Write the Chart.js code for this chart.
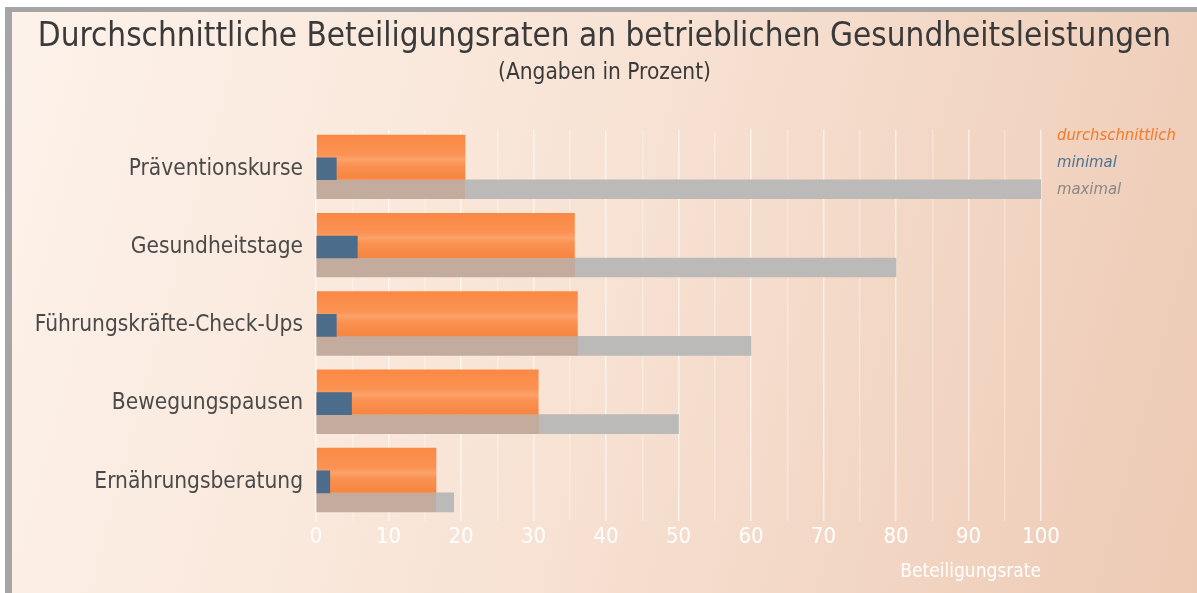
<!DOCTYPE html>
<html>
<head>
<meta charset="utf-8">
<script src="https://cdn.jsdelivr.net/npm/chart.js@4.4.0/dist/chart.umd.min.js"></script>
<style>
  html, body { margin: 0; padding: 0; background: #fff; }
  #frame {
    position: absolute; left: 5px; top: 7px; width: 1192px; height: 586px;
    box-sizing: border-box;
    border-top: 5px solid #a5a5a5; border-left: 7px solid #a5a5a5;
    background: linear-gradient(105deg, #fdf2ea 0%, #f8e4d6 45%, #edcab4 100%);
  }
  #wrap { position: absolute; left: 0; top: 0; width: 1185px; height: 581px; }
</style>
</head>
<body>
<div id="frame"><div id="wrap"><canvas id="myChart"></canvas></div></div>
<script>
var categories = ["Präventionskurse", "Gesundheitstage", "Führungskräfte-Check-Ups", "Bewegungspausen", "Ernährungsberatung"];
var avgValues = [20.6, 35.7, 36.1, 30.7, 16.6];
var minValues = [2.8, 5.7, 2.8, 4.9, 1.9];
var maxValues = [100, 80, 60, 50, 19];
var seriesNames = ["durchschnittlich", "minimal", "maximal"];

var FONT = '"Liberation Sans Narrow", "DejaVu Sans Condensed", sans-serif';
Chart.defaults.font.family = FONT;

// orange bar with a light horizontal stripe
function orangeFill(c) {
  var y = c.chart.scales.y;
  if (c.type !== 'data' || !y || !c.chart.chartArea) return '#f98a45';
  var mid = y.getPixelForValue(c.dataIndex);
  if (!isFinite(mid)) return '#f98a45';
  var g = c.chart.ctx.createLinearGradient(0, mid - 34, 0, mid + 11);
  g.addColorStop(0, '#fa8944');
  g.addColorStop(0.45, '#fb9354');
  g.addColorStop(0.55, '#fca36a');
  g.addColorStop(0.68, '#fa9152');
  g.addColorStop(1, '#f6853f');
  return g;
}

// grey bar, tinted where it runs below the orange bar
function greyFill(c) {
  var x = c.chart.scales.x;
  if (c.type !== 'data' || !x || !c.chart.chartArea) return '#bcbab9';
  var x0 = x.getPixelForValue(0);
  var x1 = x.getPixelForValue(maxValues[c.dataIndex]);
  var xa = x.getPixelForValue(avgValues[c.dataIndex]);
  if (!isFinite(x0) || !isFinite(x1) || x1 === x0) return '#bcbab9';
  var f = Math.max(0, Math.min(1, (xa - x0) / (x1 - x0)));
  var g = c.chart.ctx.createLinearGradient(x0, 0, x1, 0);
  g.addColorStop(0, '#c3ab9d');
  g.addColorStop(f, '#c3ab9d');
  g.addColorStop(f, '#bcbab9');
  g.addColorStop(1, '#bcbab9');
  return g;
}

var legendOrder = [1, 0, 2];
var sideLegend = {
  id: 'sideLegend',
  afterDraw: function (chart) {
    var ctx = chart.ctx, area = chart.chartArea;
    ctx.save();
    ctx.font = 'italic 16.5px ' + FONT;
    ctx.textBaseline = 'middle';
    ctx.textAlign = 'left';
    legendOrder.forEach(function (idx, i) {
      var ds = chart.data.datasets[idx];
      ctx.fillStyle = ds.legendColor;
      ctx.fillText(ds.label, area.right + 16, area.top + 6 + i * 27);
    });
    ctx.restore();
  }
};

var myChart = new Chart("myChart", {
  type: "bar",
  data: {
    labels: categories,
    datasets: [{
      label: seriesNames[1],
      data: minValues,
      stack: "min",
      grouped: false,
      barThickness: 22,
      backgroundColor: "#4b6c8a",
      legendColor: "#4b7395"
    }, {
      label: seriesNames[0],
      data: avgValues,
      stack: "avg",
      categoryPercentage: 0.5875,
      barPercentage: 1.9565,
      backgroundColor: orangeFill,
      legendColor: "#f47a28"
    }, {
      label: seriesNames[2],
      data: maxValues,
      stack: "max",
      barThickness: 41,
      maxBarThickness: 19,
      backgroundColor: greyFill,
      legendColor: "#8a8786"
    }]
  },
  options: {
    indexAxis: 'y',
    responsive: true,
    maintainAspectRatio: false,
    animation: false,
    layout: { padding: 0 },
    plugins: {
      legend: { display: false },
      tooltip: { enabled: false },
      title: {
        display: true,
        text: "Durchschnittliche Beteiligungsraten an betrieblichen Gesundheitsleistungen",
        color: "#3a3a3a",
        font: { size: 33, weight: 'normal' },
        padding: { top: 6, bottom: 2 }
      },
      subtitle: {
        display: true,
        text: "(Angaben in Prozent)",
        color: "#3a3a3a",
        font: { size: 22.5 },
        padding: { top: 0, bottom: 43 }
      }
    },
    scales: {
      x: {
        type: 'linear',
        min: 0,
        max: 100,
        stacked: false,
        z: 1,
        afterFit: function (s) { s.height = 72; },
        border: { display: false },
        grid: {
          drawTicks: false,
          lineWidth: 1.5,
          color: function (c) {
            return c.tick && c.tick.value % 10 === 0 ? 'rgba(255,255,255,0.6)' : 'rgba(255,255,255,0.3)';
          }
        },
        ticks: {
          stepSize: 5,
          autoSkip: false,
          maxRotation: 0,
          padding: 3,
          color: '#ffffff',
          font: { size: 22 },
          callback: function (v) { return v % 10 === 0 ? v : ''; }
        },
        title: {
          display: true,
          text: "Beteiligungsrate",
          align: 'end',
          color: '#ffffff',
          font: { size: 19 },
          padding: { top: 0, bottom: 10 }
        }
      },
      y: {
        offset: true,
        afterFit: function (s) { s.width = 304; },
        border: { display: false },
        grid: { display: false },
        ticks: { padding: 5, color: '#4a4a4a', font: { size: 22.5 } }
      },
      // empty right-hand axis that keeps room for the legend
      yLegend: {
        type: 'category',
        position: 'right',
        afterFit: function (s) { s.width = 156; },
        border: { display: false },
        grid: { display: false },
        ticks: { display: false }
      }
    }
  },
  plugins: [sideLegend]
});
</script>
</body>
</html>
